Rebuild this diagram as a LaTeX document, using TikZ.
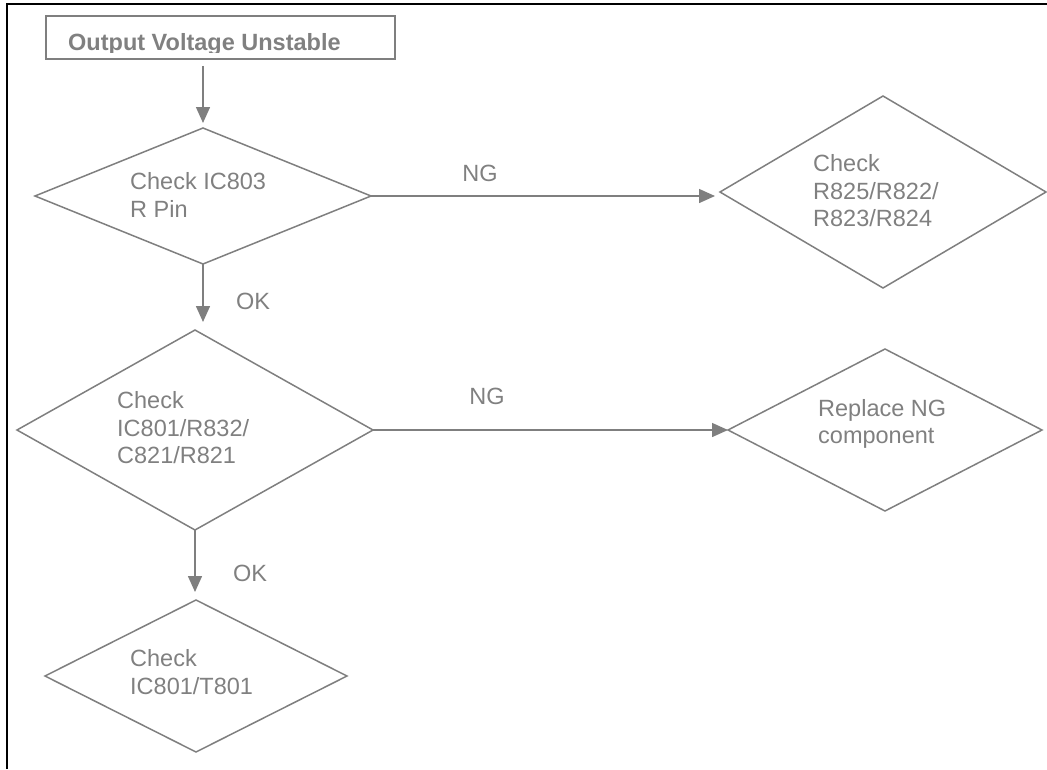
\documentclass[tikz,border=0pt]{standalone}
\usepackage{fontspec}
\setmainfont{Liberation Sans}
\usetikzlibrary{shapes.geometric,arrows.meta,calc}
\definecolor{ln}{HTML}{7F7F7F}
\definecolor{tx}{HTML}{808080}
\tikzset{
  dia/.style={diamond,draw=ln,line width=1.5pt,inner sep=0pt,outer sep=0pt},
  boxtitle/.style={rectangle,draw=ln,line width=1.5pt,inner sep=0pt,minimum width=349pt,minimum height=43pt},
  txt/.style={text=tx,font=\fontsize{23.5}{27.5}\selectfont,align=left,inner sep=0pt,anchor=west},
  lbl/.style={text=tx,font=\fontsize{23.5}{27.5}\selectfont,inner sep=0pt},
  arr/.style={draw=ln,line width=1.5pt,-{Triangle[length=16pt,width=14pt]}}
}
\begin{document}
\begin{tikzpicture}[x=1pt,y=-1pt]
\useasboundingbox (0,0) rectangle (1047,769);
% frame
\draw[black,line width=2pt] (7,769) -- (7,4) -- (1047,4);
% title
\node[boxtitle] (title) at (220.5,37.5) {};
\begin{scope}
\clip (46,16) rectangle (395,52.5);
\node[text=tx,font=\fontsize{23.5}{27}\selectfont\bfseries,inner sep=0pt,anchor=base west] (ttext) at (68,50) {Output Voltage Unstable};
\end{scope}
% diamonds
\node[dia,minimum width=336pt,minimum height=136pt] (d1) at (203,196) {};
\node[dia,minimum width=326pt,minimum height=192pt] (d2) at (883,192) {};
\node[dia,minimum width=356pt,minimum height=200pt] (d3) at (195,430) {};
\node[dia,minimum width=314pt,minimum height=162pt] (d4) at (885,430) {};
\node[dia,minimum width=302pt,minimum height=152pt] (d5) at (196,676) {};
% texts
\node[txt] (t1) at (130,195) {Check IC803\\R Pin};
\node[txt] (t2) at (813,191) {Check\\R825/R822/\\R823/R824};
\node[txt] (t3) at (117,428) {Check\\IC801/R832/\\C821/R821};
\node[txt] (t4) at (818,424) {Replace NG\\component};
\node[txt] (t5) at (130,672) {Check\\IC801/T801};
% connectors
\draw[arr,shorten <=6pt,shorten >=5pt] (title.south -| d1.north) -- (d1.north);
\draw[arr] (d1.south) -- ($(d1.south |- d3.north)+(0,-8)$);
\draw[arr] (d3.south) -- ($(d3.south |- d5.north)+(0,-8)$);
\draw[arr] (d1.east) -- ($(d1.east -| d2.west)+(-5,0)$);
\draw[arr] (d3.east) -- (d3.east -| d4.west);
% labels
\node[lbl] (ng1) at (480,173) {NG};
\node[lbl] (ok1) at (253,301) {OK};
\node[lbl] (ng2) at (487,396) {NG};
\node[lbl] (ok2) at (250,573) {OK};
\end{tikzpicture}
\end{document}
